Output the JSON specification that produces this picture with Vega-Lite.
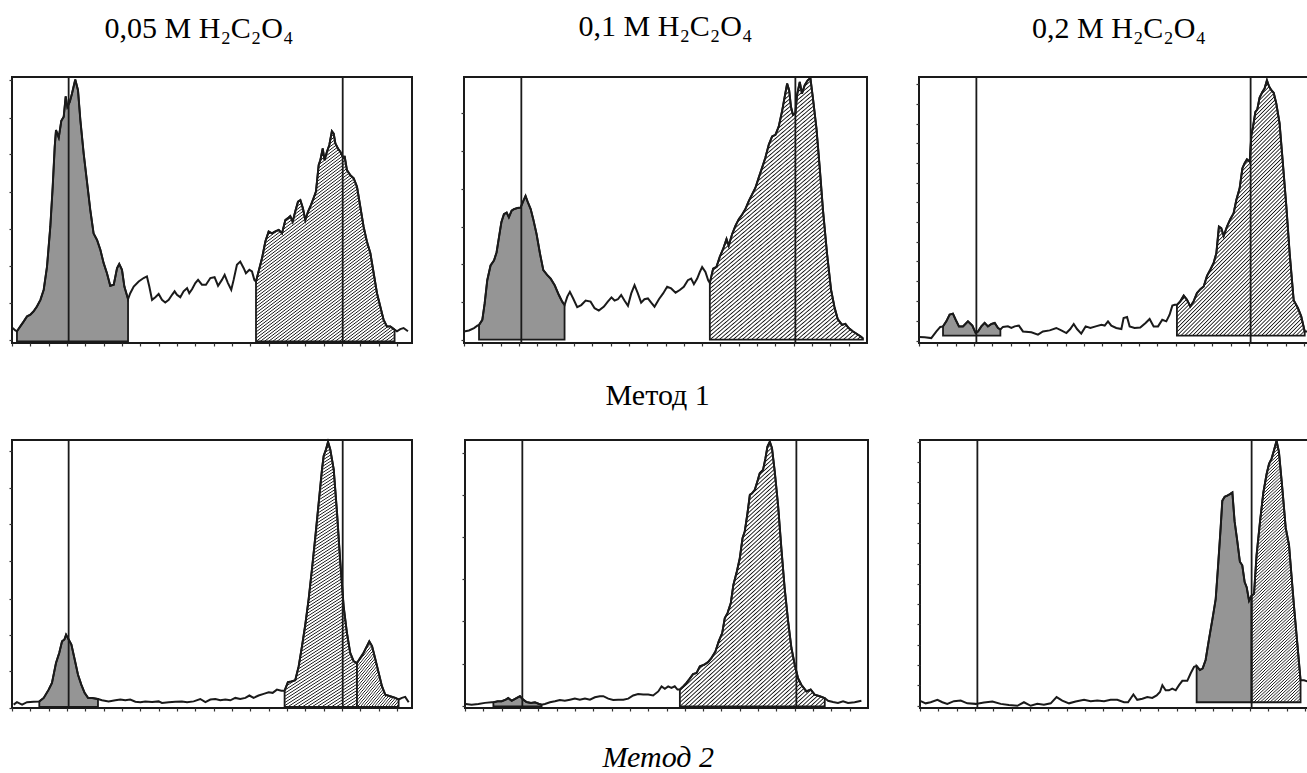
{
"$schema":"https://vega.github.io/schema/vega-lite/v6.json",
"background":"white",
"padding":{"left":7,"top":10,"right":0,"bottom":0},
"spacing":24,
"data":{"values":[
{"p":1,"r":"n","x":0.4,"y":5.0},{"p":1,"r":"n","x":1.8,"y":4.1},
{"p":1,"r":"d","x":2.7,"y":3.8},{"p":1,"r":"d","x":4.5,"y":5.6},{"p":1,"r":"d","x":6.4,"y":7.5},{"p":1,"r":"d","x":8.2,"y":9.4},{"p":1,"r":"d","x":10.0,"y":10.0},{"p":1,"r":"d","x":11.8,"y":11.3},{"p":1,"r":"d","x":13.6,"y":13.1},{"p":1,"r":"d","x":15.5,"y":15.6},{"p":1,"r":"d","x":17.3,"y":19.4},{"p":1,"r":"d","x":19.1,"y":28.1},{"p":1,"r":"d","x":20.9,"y":43.1},{"p":1,"r":"d","x":22.2,"y":58.1},{"p":1,"r":"d","x":23.3,"y":73.1},{"p":1,"r":"d","x":24.0,"y":79.4},{"p":1,"r":"d","x":25.5,"y":76.6},{"p":1,"r":"d","x":26.9,"y":82.9},{"p":1,"r":"d","x":28.2,"y":84.4},{"p":1,"r":"d","x":29.3,"y":92.1},{"p":1,"r":"d","x":30.2,"y":88.1},{"p":1,"r":"d","x":31.5,"y":90.0},{"p":1,"r":"d","x":32.7,"y":93.1},{"p":1,"r":"d","x":34.5,"y":98.4},{"p":1,"r":"d","x":36.0,"y":94.4},{"p":1,"r":"d","x":37.3,"y":83.1},{"p":1,"r":"d","x":39.1,"y":70.6},{"p":1,"r":"d","x":40.9,"y":60.0},{"p":1,"r":"d","x":42.7,"y":49.4},{"p":1,"r":"d","x":44.5,"y":40.6},{"p":1,"r":"d","x":46.4,"y":38.1},{"p":1,"r":"d","x":48.2,"y":34.4},{"p":1,"r":"d","x":50.0,"y":29.4},{"p":1,"r":"d","x":51.8,"y":25.6},{"p":1,"r":"d","x":53.6,"y":20.9},{"p":1,"r":"d","x":55.5,"y":21.3},{"p":1,"r":"d","x":57.3,"y":27.5},{"p":1,"r":"d","x":58.5,"y":29.1},{"p":1,"r":"d","x":60.0,"y":26.9},{"p":1,"r":"d","x":61.3,"y":20.6},{"p":1,"r":"d","x":63.3,"y":15.9},
{"p":1,"r":"n","x":64.5,"y":18.1},{"p":1,"r":"n","x":66.4,"y":20.6},{"p":1,"r":"n","x":69.1,"y":22.5},{"p":1,"r":"n","x":71.8,"y":23.8},{"p":1,"r":"n","x":73.6,"y":24.4},{"p":1,"r":"n","x":74.9,"y":20.6},{"p":1,"r":"n","x":76.4,"y":15.6},{"p":1,"r":"n","x":78.2,"y":16.6},{"p":1,"r":"n","x":80.0,"y":17.8},{"p":1,"r":"n","x":81.8,"y":15.6},{"p":1,"r":"n","x":83.6,"y":14.6},{"p":1,"r":"n","x":85.5,"y":15.6},{"p":1,"r":"n","x":87.3,"y":17.5},{"p":1,"r":"n","x":88.7,"y":18.8},{"p":1,"r":"n","x":90.0,"y":17.5},{"p":1,"r":"n","x":91.8,"y":16.6},{"p":1,"r":"n","x":93.6,"y":18.8},{"p":1,"r":"n","x":95.5,"y":20.0},{"p":1,"r":"n","x":96.7,"y":18.1},{"p":1,"r":"n","x":98.2,"y":19.6},{"p":1,"r":"n","x":100.0,"y":21.9},{"p":1,"r":"n","x":101.5,"y":23.1},{"p":1,"r":"n","x":103.6,"y":21.3},{"p":1,"r":"n","x":105.8,"y":21.3},{"p":1,"r":"n","x":108.2,"y":23.8},{"p":1,"r":"n","x":110.5,"y":24.1},{"p":1,"r":"n","x":112.4,"y":20.9},{"p":1,"r":"n","x":114.5,"y":23.1},{"p":1,"r":"n","x":116.0,"y":25.0},{"p":1,"r":"n","x":117.8,"y":21.9},{"p":1,"r":"n","x":119.6,"y":19.4},{"p":1,"r":"n","x":120.9,"y":23.1},{"p":1,"r":"n","x":122.7,"y":28.8},{"p":1,"r":"n","x":124.5,"y":30.0},{"p":1,"r":"n","x":126.4,"y":27.5},{"p":1,"r":"n","x":127.6,"y":25.6},{"p":1,"r":"n","x":129.5,"y":26.9},{"p":1,"r":"n","x":130.9,"y":26.3},{"p":1,"r":"n","x":132.2,"y":23.1},
{"p":1,"r":"h","x":133.1,"y":22.5},{"p":1,"r":"h","x":134.5,"y":26.3},{"p":1,"r":"h","x":136.4,"y":31.3},{"p":1,"r":"h","x":138.2,"y":37.5},{"p":1,"r":"h","x":140.0,"y":41.3},{"p":1,"r":"h","x":141.8,"y":40.6},{"p":1,"r":"h","x":143.6,"y":41.3},{"p":1,"r":"h","x":145.5,"y":41.9},{"p":1,"r":"h","x":147.3,"y":40.6},{"p":1,"r":"h","x":149.1,"y":45.6},{"p":1,"r":"h","x":150.5,"y":46.3},{"p":1,"r":"h","x":151.8,"y":47.1},{"p":1,"r":"h","x":153.1,"y":45.0},{"p":1,"r":"h","x":154.5,"y":48.8},{"p":1,"r":"h","x":156.0,"y":52.5},{"p":1,"r":"h","x":157.3,"y":53.1},{"p":1,"r":"h","x":158.7,"y":50.0},{"p":1,"r":"h","x":160.0,"y":45.6},{"p":1,"r":"h","x":161.5,"y":48.8},{"p":1,"r":"h","x":162.7,"y":50.6},{"p":1,"r":"h","x":164.5,"y":53.8},{"p":1,"r":"h","x":165.8,"y":56.3},{"p":1,"r":"h","x":167.3,"y":66.3},{"p":1,"r":"h","x":168.2,"y":68.1},{"p":1,"r":"h","x":169.5,"y":72.5},{"p":1,"r":"h","x":170.5,"y":68.1},{"p":1,"r":"h","x":171.8,"y":71.3},{"p":1,"r":"h","x":173.1,"y":73.8},{"p":1,"r":"h","x":174.5,"y":79.0},{"p":1,"r":"h","x":175.5,"y":78.1},{"p":1,"r":"h","x":176.4,"y":74.4},{"p":1,"r":"h","x":177.8,"y":72.5},{"p":1,"r":"h","x":179.1,"y":71.3},{"p":1,"r":"h","x":180.4,"y":69.4},{"p":1,"r":"h","x":181.5,"y":69.4},{"p":1,"r":"h","x":182.7,"y":64.4},{"p":1,"r":"h","x":184.5,"y":62.5},{"p":1,"r":"h","x":186.4,"y":61.3},{"p":1,"r":"h","x":188.2,"y":58.1},{"p":1,"r":"h","x":190.0,"y":50.6},{"p":1,"r":"h","x":191.8,"y":43.1},{"p":1,"r":"h","x":193.6,"y":37.5},{"p":1,"r":"h","x":195.5,"y":33.1},{"p":1,"r":"h","x":197.3,"y":25.6},{"p":1,"r":"h","x":199.1,"y":18.1},{"p":1,"r":"h","x":200.9,"y":13.1},{"p":1,"r":"h","x":202.7,"y":8.1},{"p":1,"r":"h","x":204.5,"y":5.6},{"p":1,"r":"h","x":206.4,"y":5.6},{"p":1,"r":"h","x":208.7,"y":4.4},
{"p":1,"r":"n","x":210.0,"y":3.8},{"p":1,"r":"n","x":211.8,"y":4.6},{"p":1,"r":"n","x":213.6,"y":5.0},{"p":1,"r":"n","x":216.0,"y":3.8},
{"p":1,"r":"m","x":30.9},{"p":1,"r":"m","x":180.4},

{"p":2,"r":"n","x":0,"y":3.1},{"p":2,"r":"n","x":2.7,"y":3.5},{"p":2,"r":"n","x":5.5,"y":4.4},{"p":2,"r":"n","x":7.3,"y":5.3},
{"p":2,"r":"d","x":8.2,"y":5.6},{"p":2,"r":"d","x":10.0,"y":7.5},{"p":2,"r":"d","x":11.3,"y":13.8},{"p":2,"r":"d","x":12.7,"y":22.5},{"p":2,"r":"d","x":14.5,"y":28.1},{"p":2,"r":"d","x":16.4,"y":30.0},{"p":2,"r":"d","x":17.8,"y":33.1},{"p":2,"r":"d","x":19.1,"y":38.8},{"p":2,"r":"d","x":20.4,"y":44.4},{"p":2,"r":"d","x":21.8,"y":47.5},{"p":2,"r":"d","x":23.3,"y":48.1},{"p":2,"r":"d","x":24.5,"y":46.3},{"p":2,"r":"d","x":26.0,"y":48.8},{"p":2,"r":"d","x":27.3,"y":49.4},{"p":2,"r":"d","x":29.1,"y":49.8},{"p":2,"r":"d","x":30.9,"y":50.0},{"p":2,"r":"d","x":32.4,"y":52.5},{"p":2,"r":"d","x":33.6,"y":54.4},{"p":2,"r":"d","x":34.9,"y":51.9},{"p":2,"r":"d","x":36.4,"y":49.4},{"p":2,"r":"d","x":37.8,"y":45.6},{"p":2,"r":"d","x":39.6,"y":40.0},{"p":2,"r":"d","x":41.5,"y":32.5},{"p":2,"r":"d","x":43.3,"y":26.3},{"p":2,"r":"d","x":45.5,"y":24.4},{"p":2,"r":"d","x":47.3,"y":23.1},{"p":2,"r":"d","x":49.5,"y":20.6},{"p":2,"r":"d","x":51.8,"y":16.9},{"p":2,"r":"d","x":53.6,"y":14.4},{"p":2,"r":"d","x":54.9,"y":13.1},
{"p":2,"r":"n","x":56.4,"y":16.3},{"p":2,"r":"n","x":57.8,"y":18.1},{"p":2,"r":"n","x":59.6,"y":15.6},{"p":2,"r":"n","x":61.8,"y":12.3},{"p":2,"r":"n","x":64.0,"y":13.1},{"p":2,"r":"n","x":66.4,"y":14.8},{"p":2,"r":"n","x":69.1,"y":14.4},{"p":2,"r":"n","x":71.3,"y":11.9},{"p":2,"r":"n","x":73.6,"y":11.0},{"p":2,"r":"n","x":76.4,"y":12.5},{"p":2,"r":"n","x":78.5,"y":14.4},{"p":2,"r":"n","x":80.5,"y":16.0},{"p":2,"r":"n","x":82.2,"y":14.8},{"p":2,"r":"n","x":84.0,"y":15.3},{"p":2,"r":"n","x":85.8,"y":16.9},{"p":2,"r":"n","x":87.6,"y":14.8},{"p":2,"r":"n","x":89.5,"y":12.8},{"p":2,"r":"n","x":91.3,"y":17.5},{"p":2,"r":"n","x":93.1,"y":20.6},{"p":2,"r":"n","x":94.9,"y":17.5},{"p":2,"r":"n","x":96.7,"y":14.0},{"p":2,"r":"n","x":98.5,"y":15.3},{"p":2,"r":"n","x":100.4,"y":15.6},{"p":2,"r":"n","x":102.2,"y":14.0},{"p":2,"r":"n","x":104.0,"y":12.5},{"p":2,"r":"n","x":106.4,"y":15.3},{"p":2,"r":"n","x":108.7,"y":17.5},{"p":2,"r":"n","x":110.9,"y":20.0},{"p":2,"r":"n","x":113.1,"y":19.4},{"p":2,"r":"n","x":115.5,"y":17.8},{"p":2,"r":"n","x":117.8,"y":18.8},{"p":2,"r":"n","x":120.0,"y":20.0},{"p":2,"r":"n","x":122.2,"y":22.5},{"p":2,"r":"n","x":124.0,"y":23.1},{"p":2,"r":"n","x":125.5,"y":21.0},{"p":2,"r":"n","x":127.3,"y":23.1},{"p":2,"r":"n","x":128.7,"y":25.6},{"p":2,"r":"n","x":130.0,"y":27.5},{"p":2,"r":"n","x":131.8,"y":25.6},{"p":2,"r":"n","x":133.3,"y":22.5},
{"p":2,"r":"h","x":134.2,"y":21.5},{"p":2,"r":"h","x":136.0,"y":26.9},{"p":2,"r":"h","x":137.8,"y":27.5},{"p":2,"r":"h","x":139.6,"y":31.3},{"p":2,"r":"h","x":141.5,"y":34.4},{"p":2,"r":"h","x":143.3,"y":38.1},{"p":2,"r":"h","x":144.5,"y":35.6},{"p":2,"r":"h","x":146.4,"y":40.0},{"p":2,"r":"h","x":148.2,"y":43.1},{"p":2,"r":"h","x":150.0,"y":45.6},{"p":2,"r":"h","x":151.8,"y":47.3},{"p":2,"r":"h","x":153.6,"y":49.4},{"p":2,"r":"h","x":155.5,"y":52.5},{"p":2,"r":"h","x":157.3,"y":55.0},{"p":2,"r":"h","x":159.1,"y":57.5},{"p":2,"r":"h","x":160.9,"y":61.3},{"p":2,"r":"h","x":162.7,"y":65.0},{"p":2,"r":"h","x":164.5,"y":68.8},{"p":2,"r":"h","x":166.4,"y":73.8},{"p":2,"r":"h","x":168.2,"y":76.9},{"p":2,"r":"h","x":170.0,"y":77.5},{"p":2,"r":"h","x":171.8,"y":80.6},{"p":2,"r":"h","x":173.6,"y":86.3},{"p":2,"r":"h","x":174.9,"y":91.3},{"p":2,"r":"h","x":176.4,"y":96.9},{"p":2,"r":"h","x":177.5,"y":94.4},{"p":2,"r":"h","x":178.5,"y":88.1},{"p":2,"r":"h","x":179.6,"y":85.0},{"p":2,"r":"h","x":180.9,"y":85.6},{"p":2,"r":"h","x":181.8,"y":92.5},{"p":2,"r":"h","x":183.3,"y":97.5},{"p":2,"r":"h","x":184.5,"y":93.1},{"p":2,"r":"h","x":186.0,"y":96.3},{"p":2,"r":"h","x":187.6,"y":98.1},{"p":2,"r":"h","x":189.1,"y":99.0},{"p":2,"r":"h","x":190.5,"y":91.3},{"p":2,"r":"h","x":192.4,"y":80.0},{"p":2,"r":"h","x":194.2,"y":65.0},{"p":2,"r":"h","x":196.0,"y":48.8},{"p":2,"r":"h","x":198.2,"y":32.5},{"p":2,"r":"h","x":200.4,"y":18.8},{"p":2,"r":"h","x":202.2,"y":12.5},{"p":2,"r":"h","x":204.0,"y":7.8},{"p":2,"r":"h","x":206.4,"y":5.6},{"p":2,"r":"h","x":208.2,"y":6.0},{"p":2,"r":"h","x":210.0,"y":4.4},{"p":2,"r":"h","x":212.4,"y":3.1},{"p":2,"r":"h","x":216.4,"y":1.3},{"p":2,"r":"h","x":217.8,"y":0.5},
{"p":2,"r":"m","x":31.3},{"p":2,"r":"m","x":180.9},

{"p":3,"r":"n","x":0,"y":-0.5},{"p":3,"r":"n","x":3.1,"y":-0.6},{"p":3,"r":"n","x":6.7,"y":-0.9},{"p":3,"r":"n","x":9.5,"y":1.6},{"p":3,"r":"n","x":11.6,"y":3.3},
{"p":3,"r":"d","x":13.1,"y":3.5},{"p":3,"r":"d","x":14.9,"y":5.4},{"p":3,"r":"d","x":16.7,"y":7.9},{"p":3,"r":"d","x":18.5,"y":8.3},{"p":3,"r":"d","x":20.0,"y":6.0},{"p":3,"r":"d","x":21.8,"y":3.5},{"p":3,"r":"d","x":24.0,"y":3.5},{"p":3,"r":"d","x":26.7,"y":5.4},{"p":3,"r":"d","x":29.1,"y":3.8},{"p":3,"r":"d","x":30.9,"y":1.0},{"p":3,"r":"d","x":32.2,"y":1.6},{"p":3,"r":"d","x":34.0,"y":3.5},{"p":3,"r":"d","x":35.8,"y":4.8},{"p":3,"r":"d","x":37.6,"y":3.5},{"p":3,"r":"d","x":39.5,"y":4.4},{"p":3,"r":"d","x":41.3,"y":4.8},{"p":3,"r":"d","x":43.1,"y":2.9},{"p":3,"r":"d","x":44.4,"y":2.3},
{"p":3,"r":"n","x":45.8,"y":3.3},{"p":3,"r":"n","x":48.5,"y":3.5},{"p":3,"r":"n","x":50.4,"y":2.9},{"p":3,"r":"n","x":52.2,"y":3.5},{"p":3,"r":"n","x":54.5,"y":3.8},{"p":3,"r":"n","x":56.7,"y":1.6},{"p":3,"r":"n","x":61.3,"y":1.3},{"p":3,"r":"n","x":64.9,"y":0.4},{"p":3,"r":"n","x":67.6,"y":1.6},{"p":3,"r":"n","x":71.3,"y":2.0},{"p":3,"r":"n","x":74.9,"y":2.9},{"p":3,"r":"n","x":77.6,"y":2.0},{"p":3,"r":"n","x":80.4,"y":1.0},{"p":3,"r":"n","x":82.5,"y":2.5},{"p":3,"r":"n","x":84.4,"y":4.4},{"p":3,"r":"n","x":86.2,"y":2.5},{"p":3,"r":"n","x":88.5,"y":0.8},{"p":3,"r":"n","x":90.9,"y":3.5},{"p":3,"r":"n","x":93.5,"y":2.9},{"p":3,"r":"n","x":96.4,"y":3.5},{"p":3,"r":"n","x":99.5,"y":4.1},{"p":3,"r":"n","x":101.3,"y":3.8},{"p":3,"r":"n","x":103.1,"y":5.4},{"p":3,"r":"n","x":104.9,"y":3.8},{"p":3,"r":"n","x":107.6,"y":2.9},{"p":3,"r":"n","x":110.4,"y":2.5},{"p":3,"r":"n","x":111.6,"y":6.6},{"p":3,"r":"n","x":113.5,"y":7.0},{"p":3,"r":"n","x":114.9,"y":3.5},{"p":3,"r":"n","x":117.6,"y":2.9},{"p":3,"r":"n","x":120.7,"y":3.1},{"p":3,"r":"n","x":123.6,"y":4.8},{"p":3,"r":"n","x":125.8,"y":6.3},{"p":3,"r":"n","x":128.0,"y":3.5},{"p":3,"r":"n","x":130.4,"y":3.5},{"p":3,"r":"n","x":132.7,"y":6.0},{"p":3,"r":"n","x":134.9,"y":5.4},{"p":3,"r":"n","x":136.7,"y":7.9},{"p":3,"r":"n","x":138.2,"y":11.3},{"p":3,"r":"n","x":139.5,"y":11.6},
{"p":3,"r":"h","x":140.7,"y":11.6},{"p":3,"r":"h","x":142.5,"y":12.9},{"p":3,"r":"h","x":144.4,"y":15.1},{"p":3,"r":"h","x":146.2,"y":13.5},{"p":3,"r":"h","x":148.0,"y":11.0},{"p":3,"r":"h","x":149.8,"y":12.9},{"p":3,"r":"h","x":151.6,"y":16.0},{"p":3,"r":"h","x":153.5,"y":17.5},{"p":3,"r":"h","x":155.3,"y":18.5},{"p":3,"r":"h","x":157.1,"y":22.5},{"p":3,"r":"h","x":158.9,"y":24.8},{"p":3,"r":"h","x":160.7,"y":27.3},{"p":3,"r":"h","x":162.2,"y":31.0},{"p":3,"r":"h","x":163.6,"y":41.0},{"p":3,"r":"h","x":164.9,"y":40.4},{"p":3,"r":"h","x":166.2,"y":37.5},{"p":3,"r":"h","x":168.0,"y":41.0},{"p":3,"r":"h","x":169.8,"y":43.8},{"p":3,"r":"h","x":171.6,"y":46.0},{"p":3,"r":"h","x":173.1,"y":51.0},{"p":3,"r":"h","x":174.9,"y":55.4},{"p":3,"r":"h","x":176.4,"y":62.9},{"p":3,"r":"h","x":177.6,"y":64.8},{"p":3,"r":"h","x":178.9,"y":66.3},{"p":3,"r":"h","x":180.4,"y":65.4},{"p":3,"r":"h","x":181.3,"y":75.4},{"p":3,"r":"h","x":182.2,"y":78.5},{"p":3,"r":"h","x":183.5,"y":84.1},{"p":3,"r":"h","x":184.5,"y":85.0},{"p":3,"r":"h","x":185.8,"y":89.5},{"p":3,"r":"h","x":187.3,"y":91.6},{"p":3,"r":"h","x":188.5,"y":92.9},{"p":3,"r":"h","x":189.8,"y":96.0},{"p":3,"r":"h","x":190.9,"y":93.8},{"p":3,"r":"h","x":192.2,"y":92.3},{"p":3,"r":"h","x":193.5,"y":91.3},{"p":3,"r":"h","x":194.9,"y":87.3},{"p":3,"r":"h","x":196.7,"y":79.8},{"p":3,"r":"h","x":198.5,"y":64.8},{"p":3,"r":"h","x":200.4,"y":48.5},{"p":3,"r":"h","x":202.2,"y":31.0},{"p":3,"r":"h","x":204.4,"y":13.3},{"p":3,"r":"h","x":206.7,"y":10.4},{"p":3,"r":"h","x":208.5,"y":7.3},{"p":3,"r":"h","x":210.4,"y":1.6},
{"p":3,"r":"n","x":211.3,"y":1.6},{"p":3,"r":"n","x":213.1,"y":1.6},{"p":3,"r":"n","x":216.0,"y":2.9},
{"p":3,"r":"m","x":31.3},{"p":3,"r":"m","x":180.9},

{"p":4,"r":"n","x":0.9,"y":0.9},{"p":4,"r":"n","x":2.7,"y":1.8},{"p":4,"r":"n","x":5.5,"y":0.9},{"p":4,"r":"n","x":8.2,"y":1.8},{"p":4,"r":"n","x":11.8,"y":2.0},
{"p":4,"r":"d","x":14.9,"y":2.1},{"p":4,"r":"d","x":17.3,"y":3.4},{"p":4,"r":"d","x":20.0,"y":6.5},{"p":4,"r":"d","x":21.8,"y":9.0},{"p":4,"r":"d","x":24.0,"y":16.5},{"p":4,"r":"d","x":25.8,"y":20.3},{"p":4,"r":"d","x":27.3,"y":24.6},{"p":4,"r":"d","x":28.6,"y":25.3},{"p":4,"r":"d","x":29.5,"y":27.1},{"p":4,"r":"d","x":30.9,"y":25.3},{"p":4,"r":"d","x":32.4,"y":23.4},{"p":4,"r":"d","x":34.2,"y":17.8},{"p":4,"r":"d","x":36.0,"y":12.1},{"p":4,"r":"d","x":37.8,"y":8.4},{"p":4,"r":"d","x":39.6,"y":5.3},{"p":4,"r":"d","x":41.5,"y":3.4},{"p":4,"r":"d","x":43.6,"y":3.4},{"p":4,"r":"d","x":46.9,"y":3.0},
{"p":4,"r":"n","x":49.1,"y":2.5},{"p":4,"r":"n","x":52.7,"y":2.1},{"p":4,"r":"n","x":56.4,"y":2.5},{"p":4,"r":"n","x":59.1,"y":2.8},{"p":4,"r":"n","x":61.8,"y":2.5},{"p":4,"r":"n","x":64.5,"y":2.8},{"p":4,"r":"n","x":67.3,"y":2.0},{"p":4,"r":"n","x":70.0,"y":1.8},{"p":4,"r":"n","x":72.7,"y":2.1},{"p":4,"r":"n","x":76.4,"y":1.9},{"p":4,"r":"n","x":80.0,"y":2.1},{"p":4,"r":"n","x":81.8,"y":1.5},{"p":4,"r":"n","x":85.5,"y":1.8},{"p":4,"r":"n","x":89.1,"y":2.0},{"p":4,"r":"n","x":92.7,"y":2.1},{"p":4,"r":"n","x":95.5,"y":1.8},{"p":4,"r":"n","x":99.1,"y":2.1},{"p":4,"r":"n","x":102.7,"y":3.0},{"p":4,"r":"n","x":105.5,"y":1.8},{"p":4,"r":"n","x":108.2,"y":2.8},{"p":4,"r":"n","x":110.9,"y":3.0},{"p":4,"r":"n","x":113.6,"y":2.5},{"p":4,"r":"n","x":116.4,"y":2.8},{"p":4,"r":"n","x":119.1,"y":2.5},{"p":4,"r":"n","x":121.8,"y":3.4},{"p":4,"r":"n","x":124.5,"y":3.0},{"p":4,"r":"n","x":127.3,"y":3.4},{"p":4,"r":"n","x":129.5,"y":4.3},{"p":4,"r":"n","x":131.8,"y":3.4},{"p":4,"r":"n","x":134.5,"y":4.3},{"p":4,"r":"n","x":137.3,"y":4.9},{"p":4,"r":"n","x":140.0,"y":5.5},{"p":4,"r":"n","x":142.2,"y":5.3},{"p":4,"r":"n","x":144.5,"y":6.5},{"p":4,"r":"n","x":146.9,"y":6.1},
{"p":4,"r":"h","x":148.7,"y":6.1},{"p":4,"r":"h","x":150.5,"y":9.3},{"p":4,"r":"h","x":152.4,"y":9.6},{"p":4,"r":"h","x":154.5,"y":10.0},{"p":4,"r":"h","x":156.4,"y":15.3},{"p":4,"r":"h","x":158.2,"y":22.8},{"p":4,"r":"h","x":160.0,"y":30.9},{"p":4,"r":"h","x":161.8,"y":40.3},{"p":4,"r":"h","x":163.6,"y":51.5},{"p":4,"r":"h","x":165.5,"y":64.0},{"p":4,"r":"h","x":167.3,"y":76.5},{"p":4,"r":"h","x":169.1,"y":89.0},{"p":4,"r":"h","x":170.0,"y":94.0},{"p":4,"r":"h","x":171.3,"y":96.5},{"p":4,"r":"h","x":172.4,"y":99.3},{"p":4,"r":"h","x":173.6,"y":96.5},{"p":4,"r":"h","x":175.5,"y":89.0},{"p":4,"r":"h","x":177.3,"y":72.8},{"p":4,"r":"h","x":179.1,"y":54.0},{"p":4,"r":"h","x":180.9,"y":37.8},{"p":4,"r":"h","x":182.7,"y":27.8},{"p":4,"r":"h","x":184.5,"y":20.3},{"p":4,"r":"h","x":186.4,"y":17.1},{"p":4,"r":"h","x":188.2,"y":16.5},
{"p":4,"r":"h2","x":188.2,"y":16.5},{"p":4,"r":"h2","x":190.0,"y":18.4},{"p":4,"r":"h2","x":191.8,"y":20.3},{"p":4,"r":"h2","x":193.6,"y":22.8},{"p":4,"r":"h2","x":194.9,"y":24.6},{"p":4,"r":"h2","x":196.4,"y":22.8},{"p":4,"r":"h2","x":197.8,"y":19.0},{"p":4,"r":"h2","x":199.6,"y":14.0},{"p":4,"r":"h2","x":201.8,"y":7.8},{"p":4,"r":"h2","x":203.6,"y":4.6},{"p":4,"r":"h2","x":206.4,"y":4.0},{"p":4,"r":"h2","x":209.1,"y":3.4},{"p":4,"r":"h2","x":210.9,"y":2.8},
{"p":4,"r":"n","x":212.7,"y":3.4},{"p":4,"r":"n","x":214.5,"y":3.8},{"p":4,"r":"n","x":216.4,"y":1.8},
{"p":4,"r":"m","x":30.9},{"p":4,"r":"m","x":180.4},

{"p":5,"r":"n","x":0.4,"y":0.9},{"p":5,"r":"n","x":3.6,"y":0.6},{"p":5,"r":"n","x":7.3,"y":0.9},{"p":5,"r":"n","x":10.9,"y":1.3},{"p":5,"r":"n","x":14.5,"y":1.5},
{"p":5,"r":"d","x":15.5,"y":1.5},{"p":5,"r":"d","x":17.8,"y":1.9},{"p":5,"r":"d","x":20.0,"y":1.9},{"p":5,"r":"d","x":22.2,"y":2.5},{"p":5,"r":"d","x":23.6,"y":3.1},{"p":5,"r":"d","x":25.5,"y":2.1},{"p":5,"r":"d","x":27.6,"y":2.9},{"p":5,"r":"d","x":30.0,"y":3.8},{"p":5,"r":"d","x":31.8,"y":2.5},{"p":5,"r":"d","x":33.6,"y":1.6},{"p":5,"r":"d","x":36.0,"y":1.3},{"p":5,"r":"d","x":38.2,"y":1.5},{"p":5,"r":"d","x":40.4,"y":0.9},{"p":5,"r":"d","x":41.8,"y":0.6},
{"p":5,"r":"n","x":43.6,"y":0.9},{"p":5,"r":"n","x":46.4,"y":1.5},{"p":5,"r":"n","x":49.1,"y":1.9},{"p":5,"r":"n","x":51.8,"y":2.4},{"p":5,"r":"n","x":54.5,"y":2.1},{"p":5,"r":"n","x":57.3,"y":2.5},{"p":5,"r":"n","x":60.0,"y":2.9},{"p":5,"r":"n","x":62.7,"y":2.5},{"p":5,"r":"n","x":65.5,"y":2.9},{"p":5,"r":"n","x":68.2,"y":2.5},{"p":5,"r":"n","x":70.9,"y":3.4},{"p":5,"r":"n","x":73.6,"y":3.8},{"p":5,"r":"n","x":75.5,"y":3.8},{"p":5,"r":"n","x":78.2,"y":2.9},{"p":5,"r":"n","x":80.9,"y":2.4},{"p":5,"r":"n","x":83.6,"y":2.5},{"p":5,"r":"n","x":86.4,"y":2.5},{"p":5,"r":"n","x":89.1,"y":2.9},{"p":5,"r":"n","x":91.8,"y":4.1},{"p":5,"r":"n","x":94.5,"y":4.6},{"p":5,"r":"n","x":97.3,"y":4.4},{"p":5,"r":"n","x":100.0,"y":4.4},{"p":5,"r":"n","x":102.7,"y":4.1},{"p":5,"r":"n","x":105.5,"y":5.6},{"p":5,"r":"n","x":107.3,"y":7.5},{"p":5,"r":"n","x":109.1,"y":6.6},{"p":5,"r":"n","x":110.9,"y":7.5},{"p":5,"r":"n","x":112.7,"y":6.9},{"p":5,"r":"n","x":114.5,"y":7.5},{"p":5,"r":"n","x":116.0,"y":6.3},
{"p":5,"r":"h","x":117.3,"y":6.3},{"p":5,"r":"h","x":119.1,"y":7.5},{"p":5,"r":"h","x":120.9,"y":8.8},{"p":5,"r":"h","x":122.7,"y":10.4},{"p":5,"r":"h","x":124.5,"y":12.1},{"p":5,"r":"h","x":126.4,"y":12.5},{"p":5,"r":"h","x":128.2,"y":15.0},{"p":5,"r":"h","x":130.5,"y":15.6},{"p":5,"r":"h","x":132.7,"y":16.6},{"p":5,"r":"h","x":134.5,"y":18.1},{"p":5,"r":"h","x":136.7,"y":20.6},{"p":5,"r":"h","x":138.5,"y":24.4},{"p":5,"r":"h","x":140.4,"y":27.5},{"p":5,"r":"h","x":141.8,"y":33.1},{"p":5,"r":"h","x":143.3,"y":35.0},{"p":5,"r":"h","x":145.1,"y":38.8},{"p":5,"r":"h","x":146.5,"y":45.6},{"p":5,"r":"h","x":148.4,"y":50.6},{"p":5,"r":"h","x":150.0,"y":55.6},{"p":5,"r":"h","x":151.5,"y":63.1},{"p":5,"r":"h","x":152.7,"y":65.6},{"p":5,"r":"h","x":154.2,"y":72.5},{"p":5,"r":"h","x":155.5,"y":79.4},{"p":5,"r":"h","x":156.7,"y":80.0},{"p":5,"r":"h","x":158.2,"y":81.3},{"p":5,"r":"h","x":159.6,"y":84.4},{"p":5,"r":"h","x":160.9,"y":87.5},{"p":5,"r":"h","x":162.7,"y":88.8},{"p":5,"r":"h","x":164.0,"y":93.1},{"p":5,"r":"h","x":165.1,"y":97.5},{"p":5,"r":"h","x":166.4,"y":99.4},{"p":5,"r":"h","x":167.6,"y":96.9},{"p":5,"r":"h","x":169.1,"y":88.1},{"p":5,"r":"h","x":170.9,"y":75.6},{"p":5,"r":"h","x":172.7,"y":59.4},{"p":5,"r":"h","x":174.5,"y":44.4},{"p":5,"r":"h","x":176.4,"y":31.9},{"p":5,"r":"h","x":178.2,"y":21.9},{"p":5,"r":"h","x":180.0,"y":15.6},{"p":5,"r":"h","x":181.8,"y":10.6},{"p":5,"r":"h","x":183.6,"y":8.1},{"p":5,"r":"h","x":186.4,"y":5.6},{"p":5,"r":"h","x":188.7,"y":6.3},{"p":5,"r":"h","x":190.9,"y":4.4},{"p":5,"r":"h","x":193.6,"y":3.8},{"p":5,"r":"h","x":196.4,"y":3.1},
{"p":5,"r":"n","x":198.2,"y":2.1},{"p":5,"r":"n","x":200.9,"y":1.6},{"p":5,"r":"n","x":203.6,"y":1.3},{"p":5,"r":"n","x":206.4,"y":1.9},{"p":5,"r":"n","x":209.1,"y":1.3},{"p":5,"r":"n","x":212.7,"y":1.5},{"p":5,"r":"n","x":216.4,"y":2.1},
{"p":5,"r":"m","x":31.3},{"p":5,"r":"m","x":180.9},

{"p":6,"r":"n","x":0.4,"y":0.4},{"p":6,"r":"n","x":3.1,"y":-0.4},{"p":6,"r":"n","x":5.8,"y":0},{"p":6,"r":"n","x":9.5,"y":0.9},{"p":6,"r":"n","x":12.2,"y":0},{"p":6,"r":"n","x":14.9,"y":-0.6},{"p":6,"r":"n","x":18.5,"y":0.4},{"p":6,"r":"n","x":22.2,"y":0.6},{"p":6,"r":"n","x":25.8,"y":-0.4},{"p":6,"r":"n","x":30.4,"y":-0.6},{"p":6,"r":"n","x":34.9,"y":-0.1},{"p":6,"r":"n","x":39.5,"y":0.3},{"p":6,"r":"n","x":44.0,"y":-0.6},{"p":6,"r":"n","x":48.5,"y":-1.0},{"p":6,"r":"n","x":53.1,"y":-1.3},{"p":6,"r":"n","x":56.7,"y":0},{"p":6,"r":"n","x":60.4,"y":-1.3},{"p":6,"r":"n","x":64.0,"y":-0.6},{"p":6,"r":"n","x":67.6,"y":-0.9},{"p":6,"r":"n","x":71.3,"y":-0.4},{"p":6,"r":"n","x":74.5,"y":1.9},{"p":6,"r":"n","x":77.6,"y":0.6},{"p":6,"r":"n","x":81.3,"y":-0.4},{"p":6,"r":"n","x":84.9,"y":0.3},{"p":6,"r":"n","x":89.5,"y":0.9},{"p":6,"r":"n","x":93.1,"y":0.4},{"p":6,"r":"n","x":96.7,"y":0.6},{"p":6,"r":"n","x":100.4,"y":0.4},{"p":6,"r":"n","x":104.0,"y":0.9},{"p":6,"r":"n","x":107.6,"y":0.9},{"p":6,"r":"n","x":111.3,"y":0},{"p":6,"r":"n","x":113.5,"y":0},{"p":6,"r":"n","x":116.4,"y":2.9},{"p":6,"r":"n","x":118.5,"y":0.9},{"p":6,"r":"n","x":121.3,"y":1.3},{"p":6,"r":"n","x":124.0,"y":1.9},{"p":6,"r":"n","x":126.7,"y":1.6},{"p":6,"r":"n","x":129.1,"y":2.5},{"p":6,"r":"n","x":130.9,"y":3.8},{"p":6,"r":"n","x":132.2,"y":6.3},{"p":6,"r":"n","x":134.0,"y":4.4},{"p":6,"r":"n","x":135.8,"y":4.4},{"p":6,"r":"n","x":137.6,"y":5.0},{"p":6,"r":"n","x":139.5,"y":4.4},{"p":6,"r":"n","x":141.3,"y":6.3},{"p":6,"r":"n","x":143.1,"y":7.9},{"p":6,"r":"n","x":145.8,"y":7.9},{"p":6,"r":"n","x":147.6,"y":10.6},{"p":6,"r":"n","x":149.5,"y":13.1},
{"p":6,"r":"d","x":150.9,"y":13.4},{"p":6,"r":"d","x":152.7,"y":11.9},{"p":6,"r":"d","x":154.2,"y":12.5},{"p":6,"r":"d","x":155.8,"y":15.6},{"p":6,"r":"d","x":157.6,"y":23.1},{"p":6,"r":"d","x":159.5,"y":30.6},{"p":6,"r":"d","x":161.3,"y":38.1},{"p":6,"r":"d","x":162.5,"y":49.4},{"p":6,"r":"d","x":164.0,"y":64.4},{"p":6,"r":"d","x":164.9,"y":74.4},{"p":6,"r":"d","x":166.2,"y":75.9},{"p":6,"r":"d","x":167.6,"y":76.3},{"p":6,"r":"d","x":169.1,"y":76.9},{"p":6,"r":"d","x":170.4,"y":77.5},{"p":6,"r":"d","x":171.6,"y":66.9},{"p":6,"r":"d","x":173.1,"y":59.4},{"p":6,"r":"d","x":174.5,"y":51.9},{"p":6,"r":"d","x":175.8,"y":50.6},{"p":6,"r":"d","x":177.1,"y":44.4},{"p":6,"r":"d","x":178.2,"y":42.5},{"p":6,"r":"d","x":179.5,"y":37.5},{"p":6,"r":"d","x":180.9,"y":39.4},
{"p":6,"r":"h","x":180.9,"y":39.4},{"p":6,"r":"h","x":182.2,"y":40.0},{"p":6,"r":"h","x":183.6,"y":54.4},{"p":6,"r":"h","x":185.5,"y":66.9},{"p":6,"r":"h","x":187.3,"y":77.5},{"p":6,"r":"h","x":189.1,"y":84.4},{"p":6,"r":"h","x":190.4,"y":88.1},{"p":6,"r":"h","x":191.8,"y":90.0},{"p":6,"r":"h","x":193.1,"y":93.1},{"p":6,"r":"h","x":194.5,"y":96.6},{"p":6,"r":"h","x":195.8,"y":92.5},{"p":6,"r":"h","x":197.6,"y":79.4},{"p":6,"r":"h","x":199.5,"y":64.4},{"p":6,"r":"h","x":201.3,"y":58.1},{"p":6,"r":"h","x":202.5,"y":48.1},{"p":6,"r":"h","x":204.0,"y":35.6},{"p":6,"r":"h","x":205.8,"y":21.9},{"p":6,"r":"h","x":207.6,"y":8.1},
{"p":6,"r":"n","x":209.5,"y":8.1},{"p":6,"r":"n","x":212.4,"y":7.5},{"p":6,"r":"n","x":214.2,"y":5.6},{"p":6,"r":"n","x":216.0,"y":7.1},
{"p":6,"r":"m","x":31.3},{"p":6,"r":"m","x":180.9}
]},
"vconcat":[
{"spacing":46,
 "title":{"text":"Метод 1","orient":"bottom","anchor":"middle","offset":57,"dx":-6,"font":"Liberation Serif","fontSize":30,"fontWeight":"normal","color":"#000","baseline":"alphabetic"},
 "hconcat":[
  {"width":400,"height":266,"title":{"text":"0,05 M H₂C₂O₄","dx":-13},
   "encoding":{"x":{"field":"x","type":"quantitative","title":null,"scale":{"domain":[0,218.2],"nice":false,"zero":false},"axis":{"values":[0,10,20,30,40,50,60,70,80,90,100,110,120,130,140,150,160,170,180,190,200,210]}}},
   "layer":[
    {"transform":[{"filter":"datum.p==1&&datum.r=='d'"}],"mark":{"type":"area","fill":"#959595","stroke":"#1a1a1a","strokeWidth":1.8},"encoding":{"y":{"field":"y","type":"quantitative","stack":null,"title":null,"scale":{"domain":[-0.625,99.375],"nice":false,"zero":false},"axis":{"values":[0.4,14.4,28.4,42.3,56.3,70.3,84.1,98.1]}},"y2":{"datum":0}}},
    {"transform":[{"filter":"datum.p==1&&(datum.r=='h'||datum.r=='h2')"}],"mark":{"type":"area","stroke":"#1a1a1a","strokeWidth":1.8},"encoding":{"y":{"field":"y","type":"quantitative","stack":null,"title":null,"scale":{"domain":[-0.625,99.375],"nice":false,"zero":false},"axis":{"values":[0.4,14.4,28.4,42.3,56.3,70.3,84.1,98.1]}},"y2":{"datum":0},"detail":{"field":"r"}}},
    {"transform":[{"filter":"datum.p==1&&datum.r!='m'"}],"mark":{"type":"line","stroke":"#1a1a1a","strokeWidth":2},"encoding":{"y":{"field":"y","type":"quantitative","title":null,"scale":{"domain":[-0.625,99.375],"nice":false,"zero":false},"axis":{"values":[0.4,14.4,28.4,42.3,56.3,70.3,84.1,98.1]}}}},
    {"transform":[{"filter":"datum.p==1&&datum.r=='m'"}],"mark":{"type":"rule","stroke":"#1a1a1a","strokeWidth":1.8},"encoding":{}}
   ]},
  {"width":403,"height":266,"title":{"text":"0,1 M H₂C₂O₄"},
   "encoding":{"x":{"field":"x","type":"quantitative","title":null,"scale":{"domain":[0,220],"nice":false,"zero":false},"axis":{"values":[0,10,20,30,40,50,60,70,80,90,100,110,120,130,140,150,160,170,180,190,200,210]}}},
   "layer":[
    {"transform":[{"filter":"datum.p==2&&datum.r=='d'"}],"mark":{"type":"area","fill":"#959595","stroke":"#1a1a1a","strokeWidth":1.8},"encoding":{"y":{"field":"y","type":"quantitative","stack":null,"title":null,"scale":{"domain":[-1.25,99.375],"nice":false,"zero":false},"axis":{"values":[-0.25,14.1,28.5,42.8,56.9,71.3,85.6]}},"y2":{"datum":0}}},
    {"transform":[{"filter":"datum.p==2&&(datum.r=='h'||datum.r=='h2')"}],"mark":{"type":"area","stroke":"#1a1a1a","strokeWidth":1.8},"encoding":{"y":{"field":"y","type":"quantitative","stack":null,"title":null,"scale":{"domain":[-1.25,99.375],"nice":false,"zero":false},"axis":{"values":[-0.25,14.1,28.5,42.8,56.9,71.3,85.6]}},"y2":{"datum":0},"detail":{"field":"r"}}},
    {"transform":[{"filter":"datum.p==2&&datum.r!='m'"}],"mark":{"type":"line","stroke":"#1a1a1a","strokeWidth":2},"encoding":{"y":{"field":"y","type":"quantitative","title":null,"scale":{"domain":[-1.25,99.375],"nice":false,"zero":false},"axis":{"values":[-0.25,14.1,28.5,42.8,56.9,71.3,85.6]}}}},
    {"transform":[{"filter":"datum.p==2&&datum.r=='m'"}],"mark":{"type":"rule","stroke":"#1a1a1a","strokeWidth":1.8},"encoding":{}}
   ]},
  {"width":400,"height":266,"title":{"text":"0,2 M H₂C₂O₄"},
   "encoding":{"x":{"field":"x","type":"quantitative","title":null,"scale":{"domain":[0,218.2],"nice":false,"zero":false},"axis":{"values":[0,10,20,30,40,50,60,70,80,90,100,110,120,130,140,150,160,170,180,190,200,210]}}},
   "layer":[
    {"transform":[{"filter":"datum.p==3&&datum.r=='d'"}],"mark":{"type":"area","fill":"#959595","stroke":"#1a1a1a","strokeWidth":1.8},"encoding":{"y":{"field":"y","type":"quantitative","stack":null,"title":null,"scale":{"domain":[-2.75,97.25],"nice":false,"zero":false},"axis":{"values":[-2.1,5.4,12.9,20.4,27.9,35.3,42.7,50.1,57.5,64.9,72.3,79.7,87.2,94.7]}},"y2":{"datum":0}}},
    {"transform":[{"filter":"datum.p==3&&(datum.r=='h'||datum.r=='h2')"}],"mark":{"type":"area","stroke":"#1a1a1a","strokeWidth":1.8},"encoding":{"y":{"field":"y","type":"quantitative","stack":null,"title":null,"scale":{"domain":[-2.75,97.25],"nice":false,"zero":false},"axis":{"values":[-2.1,5.4,12.9,20.4,27.9,35.3,42.7,50.1,57.5,64.9,72.3,79.7,87.2,94.7]}},"y2":{"datum":0},"detail":{"field":"r"}}},
    {"transform":[{"filter":"datum.p==3&&datum.r!='m'"}],"mark":{"type":"line","stroke":"#1a1a1a","strokeWidth":2},"encoding":{"y":{"field":"y","type":"quantitative","title":null,"scale":{"domain":[-2.75,97.25],"nice":false,"zero":false},"axis":{"values":[-2.1,5.4,12.9,20.4,27.9,35.3,42.7,50.1,57.5,64.9,72.3,79.7,87.2,94.7]}}}},
    {"transform":[{"filter":"datum.p==3&&datum.r=='m'"}],"mark":{"type":"rule","stroke":"#1a1a1a","strokeWidth":1.8},"encoding":{}}
   ]}
 ]},
{"spacing":46,
 "title":{"text":"Метод 2","orient":"bottom","anchor":"middle","offset":54,"dx":-6,"font":"Liberation Serif","fontSize":30,"fontWeight":"normal","fontStyle":"italic","color":"#000","baseline":"alphabetic"},
 "hconcat":[
  {"width":400,"height":268,
   "encoding":{"x":{"field":"x","type":"quantitative","title":null,"scale":{"domain":[0,218.2],"nice":false,"zero":false},"axis":{"values":[0,10,20,30,40,50,60,70,80,90,100,110,120,130,140,150,160,170,180,190,200,210]}}},
   "layer":[
    {"transform":[{"filter":"datum.p==4&&datum.r=='d'"}],"mark":{"type":"area","fill":"#959595","stroke":"#1a1a1a","strokeWidth":1.8},"encoding":{"y":{"field":"y","type":"quantitative","stack":null,"title":null,"scale":{"domain":[-0.375,100],"nice":false,"zero":false},"axis":{"values":[-0.3,13.4,26.9,40.6,54.6,68.4,82.1,95.9]}},"y2":{"datum":0}}},
    {"transform":[{"filter":"datum.p==4&&(datum.r=='h'||datum.r=='h2')"}],"mark":{"type":"area","style":"hn","stroke":"#1a1a1a","strokeWidth":1.8},"encoding":{"y":{"field":"y","type":"quantitative","stack":null,"title":null,"scale":{"domain":[-0.375,100],"nice":false,"zero":false},"axis":{"values":[-0.3,13.4,26.9,40.6,54.6,68.4,82.1,95.9]}},"y2":{"datum":0},"detail":{"field":"r"}}},
    {"transform":[{"filter":"datum.p==4&&datum.r!='m'"}],"mark":{"type":"line","stroke":"#1a1a1a","strokeWidth":2},"encoding":{"y":{"field":"y","type":"quantitative","title":null,"scale":{"domain":[-0.375,100],"nice":false,"zero":false},"axis":{"values":[-0.3,13.4,26.9,40.6,54.6,68.4,82.1,95.9]}}}},
    {"transform":[{"filter":"datum.p==4&&datum.r=='m'"}],"mark":{"type":"rule","stroke":"#1a1a1a","strokeWidth":1.8},"encoding":{}}
   ]},
  {"width":403,"height":268,
   "encoding":{"x":{"field":"x","type":"quantitative","title":null,"scale":{"domain":[0,220],"nice":false,"zero":false},"axis":{"values":[0,10,20,30,40,50,60,70,80,90,100,110,120,130,140,150,160,170,180,190,200,210]}}},
   "layer":[
    {"transform":[{"filter":"datum.p==5&&datum.r=='d'"}],"mark":{"type":"area","fill":"#959595","stroke":"#1a1a1a","strokeWidth":1.8},"encoding":{"y":{"field":"y","type":"quantitative","stack":null,"title":null,"scale":{"domain":[-0.625,100],"nice":false,"zero":false},"axis":{"values":[0,15.9,31.9,47.75,63.5,79.4,95.25]}},"y2":{"datum":0}}},
    {"transform":[{"filter":"datum.p==5&&(datum.r=='h'||datum.r=='h2')"}],"mark":{"type":"area","stroke":"#1a1a1a","strokeWidth":1.8},"encoding":{"y":{"field":"y","type":"quantitative","stack":null,"title":null,"scale":{"domain":[-0.625,100],"nice":false,"zero":false},"axis":{"values":[0,15.9,31.9,47.75,63.5,79.4,95.25]}},"y2":{"datum":0},"detail":{"field":"r"}}},
    {"transform":[{"filter":"datum.p==5&&datum.r!='m'"}],"mark":{"type":"line","stroke":"#1a1a1a","strokeWidth":2},"encoding":{"y":{"field":"y","type":"quantitative","title":null,"scale":{"domain":[-0.625,100],"nice":false,"zero":false},"axis":{"values":[0,15.9,31.9,47.75,63.5,79.4,95.25]}}}},
    {"transform":[{"filter":"datum.p==5&&datum.r=='m'"}],"mark":{"type":"rule","stroke":"#1a1a1a","strokeWidth":1.8},"encoding":{}}
   ]},
  {"width":400,"height":268,
   "encoding":{"x":{"field":"x","type":"quantitative","title":null,"scale":{"domain":[0,218.2],"nice":false,"zero":false},"axis":{"values":[0,10,20,30,40,50,60,70,80,90,100,110,120,130,140,150,160,170,180,190,200,210]}}},
   "layer":[
    {"transform":[{"filter":"datum.p==6&&datum.r=='d'"}],"mark":{"type":"area","fill":"#959595","stroke":"#1a1a1a","strokeWidth":1.8},"encoding":{"y":{"field":"y","type":"quantitative","stack":null,"title":null,"scale":{"domain":[-2.125,96.875],"nice":false,"zero":false},"axis":{"values":[-1.25,6.25,13.75,21.25,28.75,36.25,43.75,51.25,58.75,66.25,73.75,81.25,88.75,96.25]}},"y2":{"datum":0}}},
    {"transform":[{"filter":"datum.p==6&&(datum.r=='h'||datum.r=='h2')"}],"mark":{"type":"area","style":"hn","stroke":"#1a1a1a","strokeWidth":1.8},"encoding":{"y":{"field":"y","type":"quantitative","stack":null,"title":null,"scale":{"domain":[-2.125,96.875],"nice":false,"zero":false},"axis":{"values":[-1.25,6.25,13.75,21.25,28.75,36.25,43.75,51.25,58.75,66.25,73.75,81.25,88.75,96.25]}},"y2":{"datum":0},"detail":{"field":"r"}}},
    {"transform":[{"filter":"datum.p==6&&datum.r!='m'"}],"mark":{"type":"line","stroke":"#1a1a1a","strokeWidth":2},"encoding":{"y":{"field":"y","type":"quantitative","title":null,"scale":{"domain":[-2.125,96.875],"nice":false,"zero":false},"axis":{"values":[-1.25,6.25,13.75,21.25,28.75,36.25,43.75,51.25,58.75,66.25,73.75,81.25,88.75,96.25]}}}},
    {"transform":[{"filter":"datum.p==6&&datum.r=='m'"}],"mark":{"type":"rule","stroke":"#1a1a1a","strokeWidth":1.8},"encoding":{}}
   ]}
 ]}
],
"config":{
 "view":{"stroke":"#1a1a1a","strokeWidth":2},
 "axis":{"domain":false,"labels":false,"grid":false,"ticks":true,"tickSize":3,"tickColor":"#333","tickWidth":1.2},
 "title":{"font":"Liberation Serif","fontSize":30,"fontWeight":"normal","color":"#000","baseline":"alphabetic","offset":32},
 "area":{"color":{"gradient":"linear","x1":0,"y1":0,"x2":0.6,"y2":1.2,"stops":[
{"offset":0,"color":"#fff"},{"offset":0.004,"color":"#fff"},{"offset":0.007,"color":"#111"},
{"offset":0.01,"color":"#fff"},{"offset":0.014,"color":"#fff"},{"offset":0.017,"color":"#111"},
{"offset":0.02,"color":"#fff"},{"offset":0.024,"color":"#fff"},{"offset":0.027,"color":"#111"},
{"offset":0.03,"color":"#fff"},{"offset":0.034,"color":"#fff"},{"offset":0.037,"color":"#111"},
{"offset":0.04,"color":"#fff"},{"offset":0.044,"color":"#fff"},{"offset":0.047,"color":"#111"},
{"offset":0.05,"color":"#fff"},{"offset":0.054,"color":"#fff"},{"offset":0.057,"color":"#111"},
{"offset":0.06,"color":"#fff"},{"offset":0.064,"color":"#fff"},{"offset":0.067,"color":"#111"},
{"offset":0.07,"color":"#fff"},{"offset":0.074,"color":"#fff"},{"offset":0.077,"color":"#111"},
{"offset":0.08,"color":"#fff"},{"offset":0.084,"color":"#fff"},{"offset":0.087,"color":"#111"},
{"offset":0.09,"color":"#fff"},{"offset":0.094,"color":"#fff"},{"offset":0.097,"color":"#111"},
{"offset":0.1,"color":"#fff"},{"offset":0.104,"color":"#fff"},{"offset":0.107,"color":"#111"},
{"offset":0.11,"color":"#fff"},{"offset":0.114,"color":"#fff"},{"offset":0.117,"color":"#111"},
{"offset":0.12,"color":"#fff"},{"offset":0.124,"color":"#fff"},{"offset":0.127,"color":"#111"},
{"offset":0.13,"color":"#fff"},{"offset":0.134,"color":"#fff"},{"offset":0.137,"color":"#111"},
{"offset":0.14,"color":"#fff"},{"offset":0.144,"color":"#fff"},{"offset":0.147,"color":"#111"},
{"offset":0.15,"color":"#fff"},{"offset":0.154,"color":"#fff"},{"offset":0.157,"color":"#111"},
{"offset":0.16,"color":"#fff"},{"offset":0.164,"color":"#fff"},{"offset":0.167,"color":"#111"},
{"offset":0.17,"color":"#fff"},{"offset":0.174,"color":"#fff"},{"offset":0.177,"color":"#111"},
{"offset":0.18,"color":"#fff"},{"offset":0.184,"color":"#fff"},{"offset":0.187,"color":"#111"},
{"offset":0.19,"color":"#fff"},{"offset":0.194,"color":"#fff"},{"offset":0.197,"color":"#111"},
{"offset":0.2,"color":"#fff"},{"offset":0.204,"color":"#fff"},{"offset":0.207,"color":"#111"},
{"offset":0.21,"color":"#fff"},{"offset":0.214,"color":"#fff"},{"offset":0.217,"color":"#111"},
{"offset":0.22,"color":"#fff"},{"offset":0.224,"color":"#fff"},{"offset":0.227,"color":"#111"},
{"offset":0.23,"color":"#fff"},{"offset":0.234,"color":"#fff"},{"offset":0.237,"color":"#111"},
{"offset":0.24,"color":"#fff"},{"offset":0.244,"color":"#fff"},{"offset":0.247,"color":"#111"},
{"offset":0.25,"color":"#fff"},{"offset":0.254,"color":"#fff"},{"offset":0.257,"color":"#111"},
{"offset":0.26,"color":"#fff"},{"offset":0.264,"color":"#fff"},{"offset":0.267,"color":"#111"},
{"offset":0.27,"color":"#fff"},{"offset":0.274,"color":"#fff"},{"offset":0.277,"color":"#111"},
{"offset":0.28,"color":"#fff"},{"offset":0.284,"color":"#fff"},{"offset":0.287,"color":"#111"},
{"offset":0.29,"color":"#fff"},{"offset":0.294,"color":"#fff"},{"offset":0.297,"color":"#111"},
{"offset":0.3,"color":"#fff"},{"offset":0.304,"color":"#fff"},{"offset":0.307,"color":"#111"},
{"offset":0.31,"color":"#fff"},{"offset":0.314,"color":"#fff"},{"offset":0.317,"color":"#111"},
{"offset":0.32,"color":"#fff"},{"offset":0.324,"color":"#fff"},{"offset":0.327,"color":"#111"},
{"offset":0.33,"color":"#fff"},{"offset":0.334,"color":"#fff"},{"offset":0.337,"color":"#111"},
{"offset":0.34,"color":"#fff"},{"offset":0.344,"color":"#fff"},{"offset":0.347,"color":"#111"},
{"offset":0.35,"color":"#fff"},{"offset":0.354,"color":"#fff"},{"offset":0.357,"color":"#111"},
{"offset":0.36,"color":"#fff"},{"offset":0.364,"color":"#fff"},{"offset":0.367,"color":"#111"},
{"offset":0.37,"color":"#fff"},{"offset":0.374,"color":"#fff"},{"offset":0.377,"color":"#111"},
{"offset":0.38,"color":"#fff"},{"offset":0.384,"color":"#fff"},{"offset":0.387,"color":"#111"},
{"offset":0.39,"color":"#fff"},{"offset":0.394,"color":"#fff"},{"offset":0.397,"color":"#111"},
{"offset":0.4,"color":"#fff"},{"offset":0.404,"color":"#fff"},{"offset":0.407,"color":"#111"},
{"offset":0.41,"color":"#fff"},{"offset":0.414,"color":"#fff"},{"offset":0.417,"color":"#111"},
{"offset":0.42,"color":"#fff"},{"offset":0.424,"color":"#fff"},{"offset":0.427,"color":"#111"},
{"offset":0.43,"color":"#fff"},{"offset":0.434,"color":"#fff"},{"offset":0.437,"color":"#111"},
{"offset":0.44,"color":"#fff"},{"offset":0.444,"color":"#fff"},{"offset":0.447,"color":"#111"},
{"offset":0.45,"color":"#fff"},{"offset":0.454,"color":"#fff"},{"offset":0.457,"color":"#111"},
{"offset":0.46,"color":"#fff"},{"offset":0.464,"color":"#fff"},{"offset":0.467,"color":"#111"},
{"offset":0.47,"color":"#fff"},{"offset":0.474,"color":"#fff"},{"offset":0.477,"color":"#111"},
{"offset":0.48,"color":"#fff"},{"offset":0.484,"color":"#fff"},{"offset":0.487,"color":"#111"},
{"offset":0.49,"color":"#fff"},{"offset":0.494,"color":"#fff"},{"offset":0.497,"color":"#111"},
{"offset":0.5,"color":"#fff"},{"offset":0.504,"color":"#fff"},{"offset":0.507,"color":"#111"},
{"offset":0.51,"color":"#fff"},{"offset":0.514,"color":"#fff"},{"offset":0.517,"color":"#111"},
{"offset":0.52,"color":"#fff"},{"offset":0.524,"color":"#fff"},{"offset":0.527,"color":"#111"},
{"offset":0.53,"color":"#fff"},{"offset":0.534,"color":"#fff"},{"offset":0.537,"color":"#111"},
{"offset":0.54,"color":"#fff"},{"offset":0.544,"color":"#fff"},{"offset":0.547,"color":"#111"},
{"offset":0.55,"color":"#fff"},{"offset":0.554,"color":"#fff"},{"offset":0.557,"color":"#111"},
{"offset":0.56,"color":"#fff"},{"offset":0.564,"color":"#fff"},{"offset":0.567,"color":"#111"},
{"offset":0.57,"color":"#fff"},{"offset":0.574,"color":"#fff"},{"offset":0.577,"color":"#111"},
{"offset":0.58,"color":"#fff"},{"offset":0.584,"color":"#fff"},{"offset":0.587,"color":"#111"},
{"offset":0.59,"color":"#fff"},{"offset":0.594,"color":"#fff"},{"offset":0.597,"color":"#111"},
{"offset":0.6,"color":"#fff"},{"offset":0.604,"color":"#fff"},{"offset":0.607,"color":"#111"},
{"offset":0.61,"color":"#fff"},{"offset":0.614,"color":"#fff"},{"offset":0.617,"color":"#111"},
{"offset":0.62,"color":"#fff"},{"offset":0.624,"color":"#fff"},{"offset":0.627,"color":"#111"},
{"offset":0.63,"color":"#fff"},{"offset":0.634,"color":"#fff"},{"offset":0.637,"color":"#111"},
{"offset":0.64,"color":"#fff"},{"offset":0.644,"color":"#fff"},{"offset":0.647,"color":"#111"},
{"offset":0.65,"color":"#fff"},{"offset":0.654,"color":"#fff"},{"offset":0.657,"color":"#111"},
{"offset":0.66,"color":"#fff"},{"offset":0.664,"color":"#fff"},{"offset":0.667,"color":"#111"},
{"offset":0.67,"color":"#fff"},{"offset":0.674,"color":"#fff"},{"offset":0.677,"color":"#111"},
{"offset":0.68,"color":"#fff"},{"offset":0.684,"color":"#fff"},{"offset":0.687,"color":"#111"},
{"offset":0.69,"color":"#fff"},{"offset":0.694,"color":"#fff"},{"offset":0.697,"color":"#111"},
{"offset":0.7,"color":"#fff"},{"offset":0.704,"color":"#fff"},{"offset":0.707,"color":"#111"},
{"offset":0.71,"color":"#fff"},{"offset":0.714,"color":"#fff"},{"offset":0.717,"color":"#111"},
{"offset":0.72,"color":"#fff"},{"offset":0.724,"color":"#fff"},{"offset":0.727,"color":"#111"},
{"offset":0.73,"color":"#fff"},{"offset":0.734,"color":"#fff"},{"offset":0.737,"color":"#111"},
{"offset":0.74,"color":"#fff"},{"offset":0.744,"color":"#fff"},{"offset":0.747,"color":"#111"},
{"offset":0.75,"color":"#fff"},{"offset":0.754,"color":"#fff"},{"offset":0.757,"color":"#111"},
{"offset":0.76,"color":"#fff"},{"offset":0.764,"color":"#fff"},{"offset":0.767,"color":"#111"},
{"offset":0.77,"color":"#fff"},{"offset":0.774,"color":"#fff"},{"offset":0.777,"color":"#111"},
{"offset":0.78,"color":"#fff"},{"offset":0.784,"color":"#fff"},{"offset":0.787,"color":"#111"},
{"offset":0.79,"color":"#fff"},{"offset":0.794,"color":"#fff"},{"offset":0.797,"color":"#111"},
{"offset":0.8,"color":"#fff"},{"offset":0.804,"color":"#fff"},{"offset":0.807,"color":"#111"},
{"offset":0.81,"color":"#fff"},{"offset":0.814,"color":"#fff"},{"offset":0.817,"color":"#111"},
{"offset":0.82,"color":"#fff"},{"offset":0.824,"color":"#fff"},{"offset":0.827,"color":"#111"},
{"offset":0.83,"color":"#fff"},{"offset":0.834,"color":"#fff"},{"offset":0.837,"color":"#111"},
{"offset":0.84,"color":"#fff"},{"offset":0.844,"color":"#fff"},{"offset":0.847,"color":"#111"},
{"offset":0.85,"color":"#fff"},{"offset":0.854,"color":"#fff"},{"offset":0.857,"color":"#111"},
{"offset":0.86,"color":"#fff"},{"offset":0.864,"color":"#fff"},{"offset":0.867,"color":"#111"},
{"offset":0.87,"color":"#fff"},{"offset":0.874,"color":"#fff"},{"offset":0.877,"color":"#111"},
{"offset":0.88,"color":"#fff"},{"offset":0.884,"color":"#fff"},{"offset":0.887,"color":"#111"},
{"offset":0.89,"color":"#fff"},{"offset":0.894,"color":"#fff"},{"offset":0.897,"color":"#111"},
{"offset":0.9,"color":"#fff"},{"offset":0.904,"color":"#fff"},{"offset":0.907,"color":"#111"},
{"offset":0.91,"color":"#fff"},{"offset":0.914,"color":"#fff"},{"offset":0.917,"color":"#111"},
{"offset":0.92,"color":"#fff"},{"offset":0.924,"color":"#fff"},{"offset":0.927,"color":"#111"},
{"offset":0.93,"color":"#fff"},{"offset":0.934,"color":"#fff"},{"offset":0.937,"color":"#111"},
{"offset":0.94,"color":"#fff"},{"offset":0.944,"color":"#fff"},{"offset":0.947,"color":"#111"},
{"offset":0.95,"color":"#fff"},{"offset":0.954,"color":"#fff"},{"offset":0.957,"color":"#111"},
{"offset":0.96,"color":"#fff"},{"offset":0.964,"color":"#fff"},{"offset":0.967,"color":"#111"},
{"offset":0.97,"color":"#fff"},{"offset":0.974,"color":"#fff"},{"offset":0.977,"color":"#111"},
{"offset":0.98,"color":"#fff"},{"offset":0.984,"color":"#fff"},{"offset":0.987,"color":"#111"},
{"offset":0.99,"color":"#fff"},{"offset":0.994,"color":"#fff"},{"offset":0.997,"color":"#111"},
{"offset":1,"color":"#fff"}]}},
 "style":{
  "hn":{"color":{"gradient":"linear","x1":0,"y1":0,"x2":0.2,"y2":1.14,"stops":[
{"offset":0,"color":"#fff"},{"offset":0.004,"color":"#fff"},{"offset":0.007,"color":"#111"},
{"offset":0.01,"color":"#fff"},{"offset":0.014,"color":"#fff"},{"offset":0.017,"color":"#111"},
{"offset":0.02,"color":"#fff"},{"offset":0.024,"color":"#fff"},{"offset":0.027,"color":"#111"},
{"offset":0.03,"color":"#fff"},{"offset":0.034,"color":"#fff"},{"offset":0.037,"color":"#111"},
{"offset":0.04,"color":"#fff"},{"offset":0.044,"color":"#fff"},{"offset":0.047,"color":"#111"},
{"offset":0.05,"color":"#fff"},{"offset":0.054,"color":"#fff"},{"offset":0.057,"color":"#111"},
{"offset":0.06,"color":"#fff"},{"offset":0.064,"color":"#fff"},{"offset":0.067,"color":"#111"},
{"offset":0.07,"color":"#fff"},{"offset":0.074,"color":"#fff"},{"offset":0.077,"color":"#111"},
{"offset":0.08,"color":"#fff"},{"offset":0.084,"color":"#fff"},{"offset":0.087,"color":"#111"},
{"offset":0.09,"color":"#fff"},{"offset":0.094,"color":"#fff"},{"offset":0.097,"color":"#111"},
{"offset":0.1,"color":"#fff"},{"offset":0.104,"color":"#fff"},{"offset":0.107,"color":"#111"},
{"offset":0.11,"color":"#fff"},{"offset":0.114,"color":"#fff"},{"offset":0.117,"color":"#111"},
{"offset":0.12,"color":"#fff"},{"offset":0.124,"color":"#fff"},{"offset":0.127,"color":"#111"},
{"offset":0.13,"color":"#fff"},{"offset":0.134,"color":"#fff"},{"offset":0.137,"color":"#111"},
{"offset":0.14,"color":"#fff"},{"offset":0.144,"color":"#fff"},{"offset":0.147,"color":"#111"},
{"offset":0.15,"color":"#fff"},{"offset":0.154,"color":"#fff"},{"offset":0.157,"color":"#111"},
{"offset":0.16,"color":"#fff"},{"offset":0.164,"color":"#fff"},{"offset":0.167,"color":"#111"},
{"offset":0.17,"color":"#fff"},{"offset":0.174,"color":"#fff"},{"offset":0.177,"color":"#111"},
{"offset":0.18,"color":"#fff"},{"offset":0.184,"color":"#fff"},{"offset":0.187,"color":"#111"},
{"offset":0.19,"color":"#fff"},{"offset":0.194,"color":"#fff"},{"offset":0.197,"color":"#111"},
{"offset":0.2,"color":"#fff"},{"offset":0.204,"color":"#fff"},{"offset":0.207,"color":"#111"},
{"offset":0.21,"color":"#fff"},{"offset":0.214,"color":"#fff"},{"offset":0.217,"color":"#111"},
{"offset":0.22,"color":"#fff"},{"offset":0.224,"color":"#fff"},{"offset":0.227,"color":"#111"},
{"offset":0.23,"color":"#fff"},{"offset":0.234,"color":"#fff"},{"offset":0.237,"color":"#111"},
{"offset":0.24,"color":"#fff"},{"offset":0.244,"color":"#fff"},{"offset":0.247,"color":"#111"},
{"offset":0.25,"color":"#fff"},{"offset":0.254,"color":"#fff"},{"offset":0.257,"color":"#111"},
{"offset":0.26,"color":"#fff"},{"offset":0.264,"color":"#fff"},{"offset":0.267,"color":"#111"},
{"offset":0.27,"color":"#fff"},{"offset":0.274,"color":"#fff"},{"offset":0.277,"color":"#111"},
{"offset":0.28,"color":"#fff"},{"offset":0.284,"color":"#fff"},{"offset":0.287,"color":"#111"},
{"offset":0.29,"color":"#fff"},{"offset":0.294,"color":"#fff"},{"offset":0.297,"color":"#111"},
{"offset":0.3,"color":"#fff"},{"offset":0.304,"color":"#fff"},{"offset":0.307,"color":"#111"},
{"offset":0.31,"color":"#fff"},{"offset":0.314,"color":"#fff"},{"offset":0.317,"color":"#111"},
{"offset":0.32,"color":"#fff"},{"offset":0.324,"color":"#fff"},{"offset":0.327,"color":"#111"},
{"offset":0.33,"color":"#fff"},{"offset":0.334,"color":"#fff"},{"offset":0.337,"color":"#111"},
{"offset":0.34,"color":"#fff"},{"offset":0.344,"color":"#fff"},{"offset":0.347,"color":"#111"},
{"offset":0.35,"color":"#fff"},{"offset":0.354,"color":"#fff"},{"offset":0.357,"color":"#111"},
{"offset":0.36,"color":"#fff"},{"offset":0.364,"color":"#fff"},{"offset":0.367,"color":"#111"},
{"offset":0.37,"color":"#fff"},{"offset":0.374,"color":"#fff"},{"offset":0.377,"color":"#111"},
{"offset":0.38,"color":"#fff"},{"offset":0.384,"color":"#fff"},{"offset":0.387,"color":"#111"},
{"offset":0.39,"color":"#fff"},{"offset":0.394,"color":"#fff"},{"offset":0.397,"color":"#111"},
{"offset":0.4,"color":"#fff"},{"offset":0.404,"color":"#fff"},{"offset":0.407,"color":"#111"},
{"offset":0.41,"color":"#fff"},{"offset":0.414,"color":"#fff"},{"offset":0.417,"color":"#111"},
{"offset":0.42,"color":"#fff"},{"offset":0.424,"color":"#fff"},{"offset":0.427,"color":"#111"},
{"offset":0.43,"color":"#fff"},{"offset":0.434,"color":"#fff"},{"offset":0.437,"color":"#111"},
{"offset":0.44,"color":"#fff"},{"offset":0.444,"color":"#fff"},{"offset":0.447,"color":"#111"},
{"offset":0.45,"color":"#fff"},{"offset":0.454,"color":"#fff"},{"offset":0.457,"color":"#111"},
{"offset":0.46,"color":"#fff"},{"offset":0.464,"color":"#fff"},{"offset":0.467,"color":"#111"},
{"offset":0.47,"color":"#fff"},{"offset":0.474,"color":"#fff"},{"offset":0.477,"color":"#111"},
{"offset":0.48,"color":"#fff"},{"offset":0.484,"color":"#fff"},{"offset":0.487,"color":"#111"},
{"offset":0.49,"color":"#fff"},{"offset":0.494,"color":"#fff"},{"offset":0.497,"color":"#111"},
{"offset":0.5,"color":"#fff"},{"offset":0.504,"color":"#fff"},{"offset":0.507,"color":"#111"},
{"offset":0.51,"color":"#fff"},{"offset":0.514,"color":"#fff"},{"offset":0.517,"color":"#111"},
{"offset":0.52,"color":"#fff"},{"offset":0.524,"color":"#fff"},{"offset":0.527,"color":"#111"},
{"offset":0.53,"color":"#fff"},{"offset":0.534,"color":"#fff"},{"offset":0.537,"color":"#111"},
{"offset":0.54,"color":"#fff"},{"offset":0.544,"color":"#fff"},{"offset":0.547,"color":"#111"},
{"offset":0.55,"color":"#fff"},{"offset":0.554,"color":"#fff"},{"offset":0.557,"color":"#111"},
{"offset":0.56,"color":"#fff"},{"offset":0.564,"color":"#fff"},{"offset":0.567,"color":"#111"},
{"offset":0.57,"color":"#fff"},{"offset":0.574,"color":"#fff"},{"offset":0.577,"color":"#111"},
{"offset":0.58,"color":"#fff"},{"offset":0.584,"color":"#fff"},{"offset":0.587,"color":"#111"},
{"offset":0.59,"color":"#fff"},{"offset":0.594,"color":"#fff"},{"offset":0.597,"color":"#111"},
{"offset":0.6,"color":"#fff"},{"offset":0.604,"color":"#fff"},{"offset":0.607,"color":"#111"},
{"offset":0.61,"color":"#fff"},{"offset":0.614,"color":"#fff"},{"offset":0.617,"color":"#111"},
{"offset":0.62,"color":"#fff"},{"offset":0.624,"color":"#fff"},{"offset":0.627,"color":"#111"},
{"offset":0.63,"color":"#fff"},{"offset":0.634,"color":"#fff"},{"offset":0.637,"color":"#111"},
{"offset":0.64,"color":"#fff"},{"offset":0.644,"color":"#fff"},{"offset":0.647,"color":"#111"},
{"offset":0.65,"color":"#fff"},{"offset":0.654,"color":"#fff"},{"offset":0.657,"color":"#111"},
{"offset":0.66,"color":"#fff"},{"offset":0.664,"color":"#fff"},{"offset":0.667,"color":"#111"},
{"offset":0.67,"color":"#fff"},{"offset":0.674,"color":"#fff"},{"offset":0.677,"color":"#111"},
{"offset":0.68,"color":"#fff"},{"offset":0.684,"color":"#fff"},{"offset":0.687,"color":"#111"},
{"offset":0.69,"color":"#fff"},{"offset":0.694,"color":"#fff"},{"offset":0.697,"color":"#111"},
{"offset":0.7,"color":"#fff"},{"offset":0.704,"color":"#fff"},{"offset":0.707,"color":"#111"},
{"offset":0.71,"color":"#fff"},{"offset":0.714,"color":"#fff"},{"offset":0.717,"color":"#111"},
{"offset":0.72,"color":"#fff"},{"offset":0.724,"color":"#fff"},{"offset":0.727,"color":"#111"},
{"offset":0.73,"color":"#fff"},{"offset":0.734,"color":"#fff"},{"offset":0.737,"color":"#111"},
{"offset":0.74,"color":"#fff"},{"offset":0.744,"color":"#fff"},{"offset":0.747,"color":"#111"},
{"offset":0.75,"color":"#fff"},{"offset":0.754,"color":"#fff"},{"offset":0.757,"color":"#111"},
{"offset":0.76,"color":"#fff"},{"offset":0.764,"color":"#fff"},{"offset":0.767,"color":"#111"},
{"offset":0.77,"color":"#fff"},{"offset":0.774,"color":"#fff"},{"offset":0.777,"color":"#111"},
{"offset":0.78,"color":"#fff"},{"offset":0.784,"color":"#fff"},{"offset":0.787,"color":"#111"},
{"offset":0.79,"color":"#fff"},{"offset":0.794,"color":"#fff"},{"offset":0.797,"color":"#111"},
{"offset":0.8,"color":"#fff"},{"offset":0.804,"color":"#fff"},{"offset":0.807,"color":"#111"},
{"offset":0.81,"color":"#fff"},{"offset":0.814,"color":"#fff"},{"offset":0.817,"color":"#111"},
{"offset":0.82,"color":"#fff"},{"offset":0.824,"color":"#fff"},{"offset":0.827,"color":"#111"},
{"offset":0.83,"color":"#fff"},{"offset":0.834,"color":"#fff"},{"offset":0.837,"color":"#111"},
{"offset":0.84,"color":"#fff"},{"offset":0.844,"color":"#fff"},{"offset":0.847,"color":"#111"},
{"offset":0.85,"color":"#fff"},{"offset":0.854,"color":"#fff"},{"offset":0.857,"color":"#111"},
{"offset":0.86,"color":"#fff"},{"offset":0.864,"color":"#fff"},{"offset":0.867,"color":"#111"},
{"offset":0.87,"color":"#fff"},{"offset":0.874,"color":"#fff"},{"offset":0.877,"color":"#111"},
{"offset":0.88,"color":"#fff"},{"offset":0.884,"color":"#fff"},{"offset":0.887,"color":"#111"},
{"offset":0.89,"color":"#fff"},{"offset":0.894,"color":"#fff"},{"offset":0.897,"color":"#111"},
{"offset":0.9,"color":"#fff"},{"offset":0.904,"color":"#fff"},{"offset":0.907,"color":"#111"},
{"offset":0.91,"color":"#fff"},{"offset":0.914,"color":"#fff"},{"offset":0.917,"color":"#111"},
{"offset":0.92,"color":"#fff"},{"offset":0.924,"color":"#fff"},{"offset":0.927,"color":"#111"},
{"offset":0.93,"color":"#fff"},{"offset":0.934,"color":"#fff"},{"offset":0.937,"color":"#111"},
{"offset":0.94,"color":"#fff"},{"offset":0.944,"color":"#fff"},{"offset":0.947,"color":"#111"},
{"offset":0.95,"color":"#fff"},{"offset":0.954,"color":"#fff"},{"offset":0.957,"color":"#111"},
{"offset":0.96,"color":"#fff"},{"offset":0.964,"color":"#fff"},{"offset":0.967,"color":"#111"},
{"offset":0.97,"color":"#fff"},{"offset":0.974,"color":"#fff"},{"offset":0.977,"color":"#111"},
{"offset":0.98,"color":"#fff"},{"offset":0.984,"color":"#fff"},{"offset":0.987,"color":"#111"},
{"offset":0.99,"color":"#fff"},{"offset":0.994,"color":"#fff"},{"offset":0.997,"color":"#111"},
{"offset":1,"color":"#fff"}]}}
 }
}
}
